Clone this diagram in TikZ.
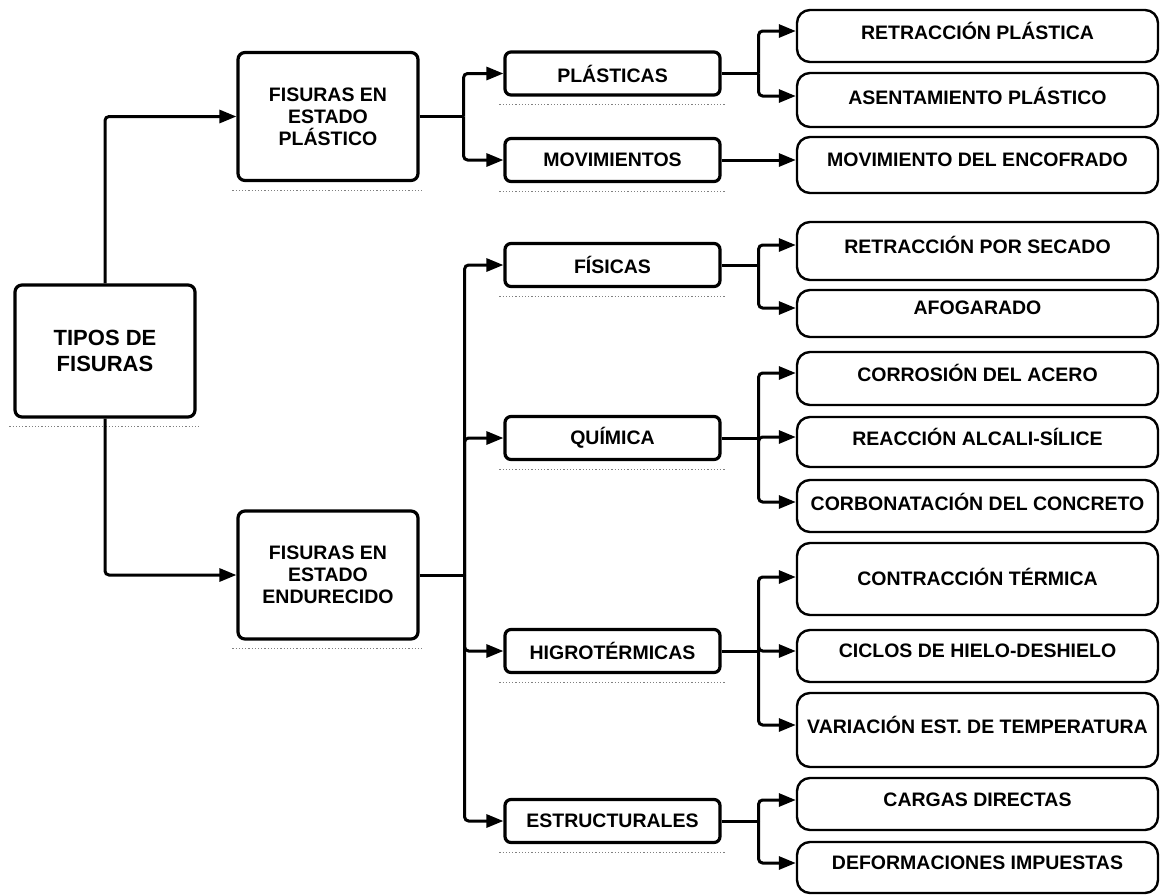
\documentclass[tikz,border=0pt]{standalone}
\usepackage{fontspec}
\setmainfont{Liberation Sans}
\usetikzlibrary{arrows.meta,calc}
\begin{document}
\begin{tikzpicture}[x=1pt,y=-1pt,
  conn/.style={line width=3pt,rounded corners=4pt},
  arr/.style={conn,-{Triangle[length=17pt,width=13pt]}},
  basebox/.style={draw,line width=3.2pt,align=center,inner sep=0pt,font=\fontsize{19.5}{22}\selectfont\bfseries},
  rootbox/.style={basebox,rounded corners=7pt,minimum width=180pt,minimum height=132pt,font=\fontsize{22}{26}\selectfont\bfseries},
  lonebox/.style={basebox,rounded corners=7pt,minimum width=180pt,minimum height=128pt},
  ltwobox/.style={basebox,rounded corners=6pt,minimum width=215pt,minimum height=43pt},
  lthreebox/.style={draw,line width=2.4pt,rounded corners=13pt,minimum width=361pt,inner sep=0pt},
  lthreetext/.style={inner sep=0pt,font=\fontsize{19.5}{22}\selectfont\bfseries},
  shadowline/.style={draw=black!50,line width=1.2pt,dotted}
]
\useasboundingbox (0,0) rectangle (1160,895);

% root and level 1
\node[rootbox] (root) at (105,351) {TIPOS DE\\FISURAS};
\node[lonebox] (pl) at (328,116.5) {FISURAS EN\\ESTADO\\PLÁSTICO};
\node[lonebox] (en) at (328,575) {FISURAS EN\\ESTADO\\ENDURECIDO};

% level 2
\node[ltwobox] (c1) at (612.5,73.5) {PLÁSTICAS};
\node[ltwobox] (c2) at (612.5,160) {MOVIMIENTOS};
\node[ltwobox] (c3) at (612.5,265) {FÍSICAS};
\node[ltwobox] (c4) at (612.5,438) {QUÍMICA};
\node[ltwobox] (c5) at (612.5,651) {HIGROTÉRMICAS};
\node[ltwobox] (c6) at (612.5,821) {ESTRUCTURALES};

% shadows
\foreach \b in {root,pl,en,c1,c2,c3,c4,c5,c6}{
  \draw[shadowline] ($(\b.south west)+(-4,8)$) -- ($(\b.south east)+(4,8)$);
}

% level 3 boxes
\node[lthreebox,minimum height=52pt] (r1) at (977.5,36) {};
\node[lthreetext] (r1t) at (977.5,31) {RETRACCIÓN PLÁSTICA};
\node[lthreebox,minimum height=54pt] (r2) at (977.5,100) {};
\node[lthreetext] (r2t) at (977.5,96) {ASENTAMIENTO PLÁSTICO};
\node[lthreebox,minimum height=56pt] (r3) at (977.5,165) {};
\node[lthreetext] (r3t) at (977.5,160) {MOVIMIENTO DEL ENCOFRADO};
\node[lthreebox,minimum height=58pt] (r4) at (977.5,251) {};
\node[lthreetext] (r4t) at (977.5,245) {RETRACCIÓN POR SECADO};
\node[lthreebox,minimum height=47pt] (r5) at (977.5,313.5) {};
\node[lthreetext] (r5t) at (977.5,308) {AFOGARADO};
\node[lthreebox,minimum height=53pt] (r6) at (977.5,378.5) {};
\node[lthreetext] (r6t) at (977.5,373) {CORROSIÓN DEL ACERO};
\node[lthreebox,minimum height=50pt] (r7) at (977.5,442) {};
\node[lthreetext] (r7t) at (977.5,437) {REACCIÓN ALCALI-SÍLICE};
\node[lthreebox,minimum height=52pt] (r8) at (977.5,506) {};
\node[lthreetext] (r8t) at (977.5,502) {CORBONATACIÓN DEL CONCRETO};
\node[lthreebox,minimum height=72pt] (r9) at (977.5,579) {};
\node[lthreetext] (r9t) at (977.5,577) {CONTRACCIÓN TÉRMICA};
\node[lthreebox,minimum height=52pt] (r10) at (977.5,656) {};
\node[lthreetext] (r10t) at (977.5,651) {CICLOS DE HIELO-DESHIELO};
\node[lthreebox,minimum height=74pt] (r11) at (977.5,730) {};
\node[lthreetext] (r11t) at (977.5,725) {VARIACIÓN EST. DE TEMPERATURA};
\node[lthreebox,minimum height=52pt] (r12) at (977.5,804) {};
\node[lthreetext] (r12t) at (977.5,800) {CARGAS DIRECTAS};
\node[lthreebox,minimum height=51pt] (r13) at (977.5,867.5) {};
\node[lthreetext] (r13t) at (977.5,863) {DEFORMACIONES IMPUESTAS};

% root connectors
\draw[arr] (root.north) |- (pl.west);
\draw[arr] (root.south) |- (en.west);

% plastic state
\coordinate (jp) at ($(pl.east)+(44,0)$);
\draw[conn] (pl.east) -- (jp);
\draw[arr] (jp) |- (c1.west);
\draw[arr] (jp) |- (c2.west);

% hardened state
\coordinate (je) at ($(en.east)+(45,0)$);
\draw[conn] (en.east) -- (je);
\foreach \c in {c3,c4,c5,c6}{
  \draw[arr] (je) |- (\c.west);
}

% level 2 -> level 3
\coordinate (j1) at ($(c1.east)+(37,0)$);
\draw[conn] (c1.east) -- (j1);
\draw[arr] (j1) |- (r1t -| r1.west);
\draw[arr] (j1) |- (r2t -| r2.west);

\draw[arr] (c2.east) -- (c2.east -| r3.west);

\coordinate (j3) at ($(c3.east)+(37,0)$);
\draw[conn] (c3.east) -- (j3);
\draw[arr] (j3) |- (r4t -| r4.west);
\draw[arr] (j3) |- (r5t -| r5.west);

\coordinate (j4) at ($(c4.east)+(37,0)$);
\draw[conn] (c4.east) -- (j4);
\draw[arr] (j4) |- (r6t -| r6.west);
\draw[arr] (j4) |- (r7t -| r7.west);
\draw[arr] (j4) |- (r8t -| r8.west);

\coordinate (j5) at ($(c5.east)+(37,0)$);
\draw[conn] (c5.east) -- (j5);
\draw[arr] (j5) |- (r9t -| r9.west);
\draw[arr] (j5) |- (r10t -| r10.west);
\draw[arr] (j5) |- (r11t -| r11.west);

\coordinate (j6) at ($(c6.east)+(37,0)$);
\draw[conn] (c6.east) -- (j6);
\draw[arr] (j6) |- (r12t -| r12.west);
\draw[arr] (j6) |- (r13t -| r13.west);
\end{tikzpicture}
\end{document}
